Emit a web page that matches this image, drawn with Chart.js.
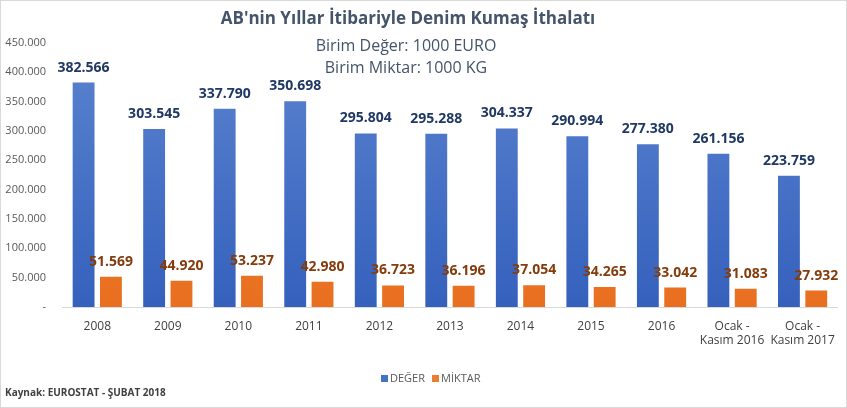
<!DOCTYPE html>
<html><head><meta charset="utf-8">
<script src="https://cdn.jsdelivr.net/npm/chart.js@4"></script>
<style>html,body{margin:0;padding:0;background:#fff;}#wrap{position:relative;width:847px;height:408px;}</style>
</head><body><div id="wrap"><canvas id="c" width="847" height="408"></canvas></div>
<script>
const categories = ['2008','2009','2010','2011','2012','2013','2014','2015','2016',['Ocak -','Kasım 2016'],['Ocak -','Kasım 2017']];
const degerValues = [382566,303545,337790,350698,295804,295288,304337,290994,277380,261156,223759];
const miktarValues = [51569,44920,53237,42980,36723,36196,37054,34265,33042,31083,27932];
const seriesNames = ['DEĞER','MİKTAR'];
const titleText = "AB'nin Yıllar İtibariyle Denim Kumaş İthalatı";
const subtitleLines = ['Birim Değer: 1000 EURO','Birim Miktar: 1000 KG'];
const sourceText = 'Kaynak: EUROSTAT - ŞUBAT 2018';
const yMax = 450000, yStep = 50000;

const FONT = "'Open Sans', 'Noto Sans', sans-serif";
const fmt = v => String(Math.round(v)).replace(/\B(?=(\d{3})+(?!\d))/g, '.');

function grad(ctx, top, bottom) {
  const chart = ctx.chart; const a = chart.chartArea;
  if (!a) return top;
  const g = chart.ctx.createLinearGradient(0, a.top, 0, a.bottom);
  g.addColorStop(0, top); g.addColorStop(1, bottom);
  return g;
}

const deco = {
  id: 'deco',
  afterDatasetsDraw(chart) {
    const ctx = chart.ctx;
    ctx.save();
    const colors = ['#1f3864', '#843c0c'];
    chart.data.datasets.forEach((ds, i) => {
      const meta = chart.getDatasetMeta(i);
      ctx.font = "bold 14px " + FONT;
      ctx.fillStyle = colors[i];
      ctx.textAlign = 'center'; ctx.textBaseline = 'middle';
      meta.data.forEach((bar, j) => {
        ctx.fillText(fmt(ds.data[j]), bar.x, bar.y - 15);
      });
    });
    // title
    ctx.fillStyle = '#44546a';
    ctx.textAlign = 'center'; ctx.textBaseline = 'middle';
    ctx.font = "bold 17px " + FONT;
    ctx.fillText(titleText, 408, 19);
    ctx.font = "16px " + FONT;
    subtitleLines.forEach((s, k) => ctx.fillText(s, 406, 46 + k * 22));
    // legend
    ctx.font = "11px " + FONT;
    ctx.textAlign = 'left';
    const lx = [381, 432];
    chart.data.datasets.forEach((ds, i) => {
      ctx.fillStyle = i === 0 ? '#4472c4' : '#ed7d31';
      ctx.fillRect(lx[i], 375, 7, 7);
      ctx.fillStyle = '#595959';
      ctx.fillText(ds.label, lx[i] + 9, 379);
    });
    // source
    ctx.font = "bold 10px " + FONT;
    ctx.fillStyle = '#404040';
    ctx.fillText(sourceText, 5, 393);
    // border
    ctx.strokeStyle = '#d9d9d9'; ctx.lineWidth = 1;
    ctx.strokeRect(0.5, 0.5, chart.width - 1, chart.height - 1);
    ctx.restore();
  }
};

new Chart(document.getElementById('c'), {
  type: 'bar',
  data: {
    labels: categories,
    datasets: [
      { label: seriesNames[0], data: degerValues,
        backgroundColor: c => grad(c, '#5b83cf', '#3561bd') },
      { label: seriesNames[1], data: miktarValues,
        backgroundColor: c => grad(c, '#f48c3e', '#e86f1f') }
    ]
  },
  options: {
    responsive: false, animation: false,
    layout: { padding: { left: 4, right: 4, top: 43, bottom: 51 } },
    datasets: { bar: { categoryPercentage: 0.775, barPercentage: 0.8 } },
    plugins: { legend: { display: false }, title: { display: false }, tooltip: { enabled: false } },
    scales: {
      x: {
        grid: { display: false, drawTicks: false },
        border: { display: true, color: '#d9d9d9' },
        ticks: { color: '#404040', font: { family: FONT, size: 12 }, padding: 12, maxRotation: 0, autoSkip: false },
        afterFit: s => { s.height = 50; }
      },
      y: {
        min: 0, max: yMax,
        grid: { display: false, drawTicks: false },
        border: { display: false },
        ticks: { stepSize: yStep, color: '#595959', font: { family: FONT, size: 11 }, padding: 16,
          callback: v => v === 0 ? '-' : fmt(v) },
        afterFit: s => { s.width = 58; }
      }
    }
  },
  plugins: [deco]
});
</script></body></html>
